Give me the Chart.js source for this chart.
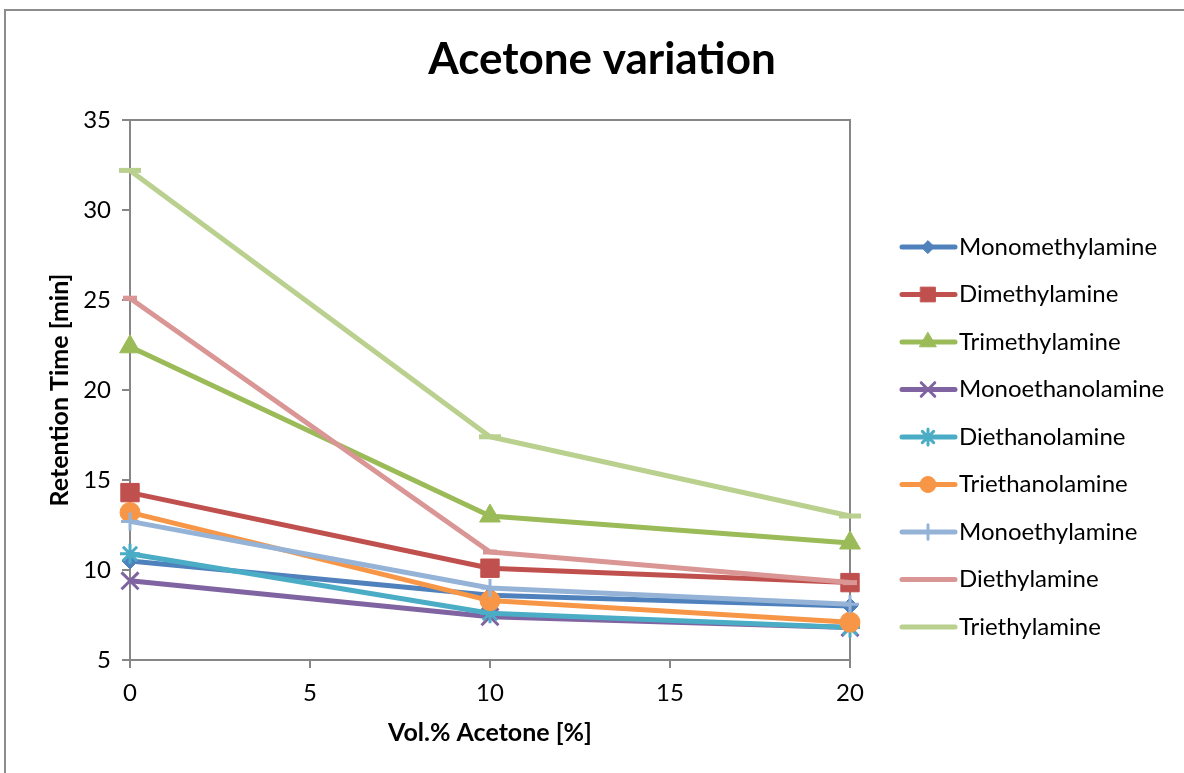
<!DOCTYPE html>
<html>
<head>
<meta charset="utf-8">
<title>Acetone variation</title>
<script src="https://cdn.jsdelivr.net/npm/chart.js@4.4.0/dist/chart.umd.min.js"></script>
<style>
  html, body { margin: 0; padding: 0; background: #fff; }
  #wrap { position: relative; width: 1184px; height: 773px; overflow: hidden; }
  #frame { position: absolute; left: 4px; top: 9px; width: 1300px; height: 900px;
           border-top: 2px solid #8c8c8c; border-left: 2px solid #8c8c8c; }
  canvas { position: absolute; left: 0; top: 0; }
</style>
</head>
<body>
<div id="wrap">
  <div id="frame"></div>
  <canvas id="chart" width="1184" height="773"></canvas>
</div>
<script>
const chartTitle = "Acetone variation";
const xValues = [0, 10, 20];
const xTicks = [0, 5, 10, 15, 20];
const yTicks = [5, 10, 15, 20, 25, 30, 35];

const seriesNames = [
  "Monomethylamine", "Dimethylamine", "Trimethylamine",
  "Monoethanolamine", "Diethanolamine", "Triethanolamine",
  "Monoethylamine", "Diethylamine", "Triethylamine"
];
const monomethylamine = [10.5, 8.6, 8.0];
const dimethylamine = [14.3, 10.1, 9.3];
const trimethylamine = [22.4, 13.0, 11.5];
const monoethanolamine = [9.4, 7.4, 6.8];
const diethanolamine = [10.9, 7.6, 6.8];
const triethanolamine = [13.2, 8.3, 7.1];
const monoethylamine = [12.7, 9.0, 8.1];
const diethylamine = [25.1, 11.0, 9.3];
const triethylamine = [32.2, 17.4, 13.0];

const seriesValues = [
  monomethylamine, dimethylamine, trimethylamine,
  monoethanolamine, diethanolamine, triethanolamine,
  monoethylamine, diethylamine, triethylamine
];
const colors = ["#4F81BD", "#C0504D", "#9BBB59", "#8064A2", "#4BACC6",
                "#F79646", "#95B3D7", "#D99694", "#B9D08E"];
// excel default marker cycle
const markers = ["rectRot", "rect", "triangle", "crossRot", "star",
                 "circle", "cross", "line", "line"];
const markerSizes = [8, 13, 12, 12, 10, 10, 9, 7, 11];
const markerBorders = [1, 1, 1, 3, 3, 1, 3, 5, 5];

const axisColor = "#868686";
const font = "Lato, 'Open Sans', sans-serif";

const datasets = seriesNames.map((name, i) => ({
  label: name,
  data: xValues.map((x, j) => ({ x: x, y: seriesValues[i][j] })),
  borderColor: colors[i],
  backgroundColor: colors[i],
  borderWidth: 5,
  borderJoinStyle: "round",
  pointStyle: markers[i],
  pointRadius: markerSizes[i],
  pointBorderWidth: markerBorders[i],
  pointBackgroundColor: colors[i],
  pointBorderColor: colors[i],
  tension: 0,
  clip: false,
  order: seriesNames.length - i
}));

// plot frame (top and right edges)
const framePlugin = {
  id: "frame",
  beforeDatasetsDraw(chart) {
    const { ctx, chartArea: a } = chart;
    ctx.save();
    ctx.strokeStyle = axisColor;
    ctx.lineWidth = 2;
    ctx.beginPath();
    ctx.moveTo(a.left, a.top);
    ctx.lineTo(a.right, a.top);
    ctx.lineTo(a.right, a.bottom);
    ctx.stroke();
    ctx.restore();
  }
};

// title centred on the whole canvas, legend with line + marker like excel
const legendPlugin = {
  id: "excelLegend",
  afterDraw(chart) {
    const { ctx, chartArea: a } = chart;
    ctx.save();
    ctx.fillStyle = "#000";
    ctx.font = "bold 44px " + font;
    ctx.textAlign = "center";
    ctx.textBaseline = "middle";
    ctx.fillText(chartTitle, chart.width / 2 + 10, 60);

    const x0 = a.right + 52;
    const y0 = 247;
    const step = 47.5;
    ctx.textAlign = "left";
    chart.data.datasets.forEach((ds, i) => {
      const y = y0 + i * step;
      ctx.strokeStyle = ds.borderColor;
      ctx.lineWidth = 5;
      ctx.lineCap = "round";
      ctx.beginPath();
      ctx.moveTo(x0, y);
      ctx.lineTo(x0 + 53, y);
      ctx.stroke();
      ctx.fillStyle = ds.pointBackgroundColor;
      ctx.strokeStyle = ds.pointBorderColor;
      ctx.lineWidth = ds.pointBorderWidth;
      if (ds.pointStyle !== "line") {
        Chart.helpers.drawPoint(ctx, {
          pointStyle: ds.pointStyle,
          radius: ds.pointRadius * 0.8,
          borderWidth: ds.pointBorderWidth,
          rotation: 0
        }, x0 + 26, y);
      }
      ctx.fillStyle = "#000";
      ctx.font = "24px " + font;
      ctx.textBaseline = "middle";
      ctx.fillText(ds.label, x0 + 57, y);
    });
    ctx.restore();
  }
};

new Chart(document.getElementById("chart"), {
  type: "line",
  data: { datasets: datasets },
  options: {
    responsive: false,
    animation: false,
    layout: { padding: { left: 0, right: 334, top: 120, bottom: 0 } },
    plugins: {
      legend: { display: false },
      tooltip: { enabled: false },
      title: { display: false }
    },
    scales: {
      x: {
        type: "linear",
        min: 0,
        max: 20,
        afterBuildTicks(scale) { scale.ticks = xTicks.map(v => ({ value: v })); },
        afterFit(scale) { scale.height = 113; },
        ticks: { color: "#000", padding: 11, font: { family: font, size: 24 } },
        grid: { drawOnChartArea: false, drawTicks: true, tickLength: 8, color: axisColor, lineWidth: 2 },
        border: { color: axisColor, width: 2 },
        title: {
          display: true,
          text: "Vol.% Acetone [%]",
          color: "#000",
          font: { family: font, size: 25, weight: "bold", lineHeight: 1.2 },
          padding: { top: 0, bottom: 25 }
        }
      },
      y: {
        type: "linear",
        min: 5,
        max: 35,
        afterBuildTicks(scale) { scale.ticks = yTicks.map(v => ({ value: v })); },
        afterFit(scale) { scale.width = 130; },
        ticks: { color: "#000", padding: 11, font: { family: font, size: 24 } },
        grid: { drawOnChartArea: false, drawTicks: true, tickLength: 8, color: axisColor, lineWidth: 2 },
        border: { color: axisColor, width: 2 },
        title: {
          display: true,
          text: "Retention Time [min]",
          color: "#000",
          font: { family: font, size: 25, weight: "bold", lineHeight: 1.2 },
          padding: { top: 45, bottom: 0 }
        }
      }
    }
  },
  plugins: [framePlugin, legendPlugin]
});
</script>
</body>
</html>
